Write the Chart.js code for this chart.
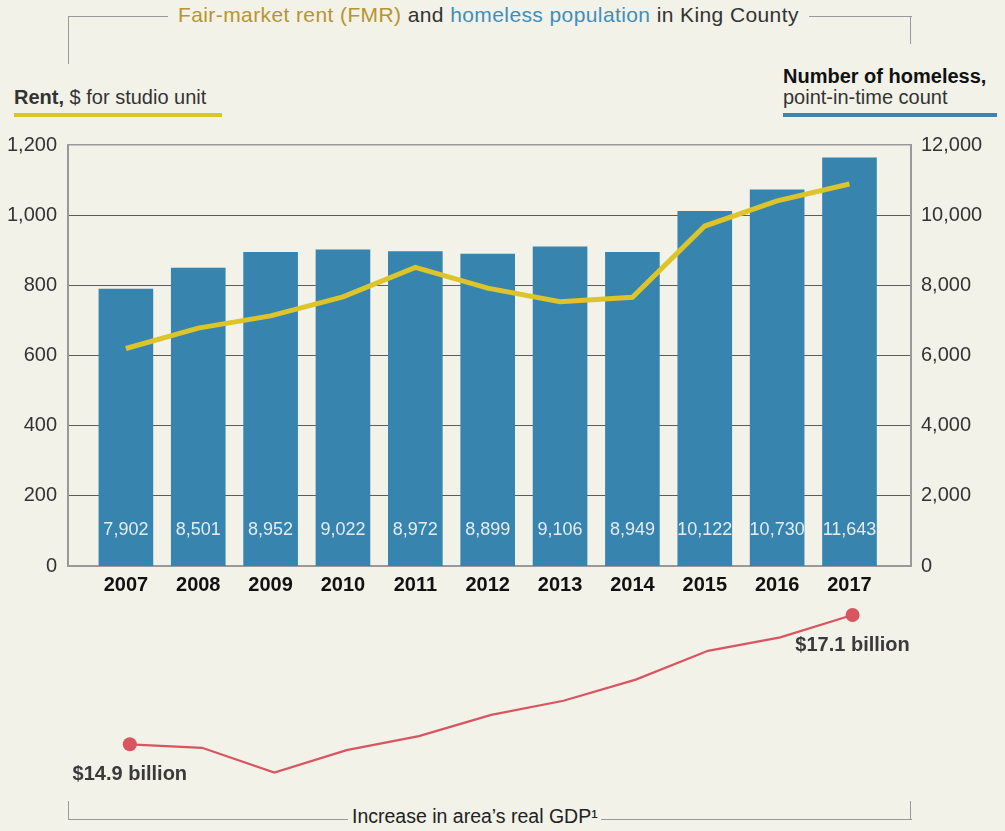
<!DOCTYPE html>
<html>
<head>
<meta charset="utf-8">
<script src="https://cdn.jsdelivr.net/npm/chart.js@4"></script>
<style>
  body { margin: 0; background: #f2f2e9; font-family: 'Liberation Sans', Arial, sans-serif; }
  #wrap { position: relative; width: 1005px; height: 831px; overflow: hidden; }
  .txt { position: absolute; font-size: 20px; line-height: 20px; color: #333; white-space: nowrap; }
  .ln { position: absolute; background: #9a9a9a; }
  .bar { position: absolute; height: 4px; }
  canvas { position: absolute; left: 0; }
</style>
</head>
<body>
<div id="wrap">
  <!-- top bracket -->
  <div class="ln" style="left:68px;top:16px;width:100px;height:1.3px"></div>
  <div class="ln" style="left:68px;top:16px;width:1.3px;height:48px"></div>
  <div class="ln" style="left:809px;top:16px;width:103px;height:1.3px"></div>
  <div class="ln" style="left:910px;top:16px;width:1.3px;height:28px"></div>
  <div class="txt" style="left:178px;top:4px;font-size:21px;line-height:21px;letter-spacing:0.4px">
    <span style="color:#b8952f">Fair-market rent (FMR)</span> and <span style="color:#3d8fbd">homeless population</span> in King County
  </div>

  <!-- axis titles -->
  <div class="txt" style="left:14px;top:87px"><b>Rent,</b> $ for studio unit</div>
  <div class="bar" style="left:14px;top:113px;width:208px;background:#dcc52c"></div>
  <div class="txt" style="left:783px;top:66px;color:#111"><b>Number of homeless,</b></div>
  <div class="txt" style="left:783px;top:87px">point-in-time count</div>
  <div class="bar" style="left:783px;top:113px;width:214px;background:#3a85b2"></div>

  <canvas id="main" width="1005" height="600" style="top:0"></canvas>
  <canvas id="gdp" width="1005" height="200" style="top:600px"></canvas>

  <!-- bottom bracket -->
  <div class="ln" style="left:68px;top:801px;width:1.3px;height:19px"></div>
  <div class="ln" style="left:68px;top:819px;width:280px;height:1.3px"></div>
  <div class="ln" style="left:601px;top:819px;width:311px;height:1.3px"></div>
  <div class="ln" style="left:910px;top:801px;width:1.3px;height:19px"></div>
  <div class="txt" style="left:352px;top:806px;font-size:19.5px;line-height:20px;color:#222">Increase in area’s real GDP¹</div>
</div>

<script>
const years = [2007, 2008, 2009, 2010, 2011, 2012, 2013, 2014, 2015, 2016, 2017];
const homeless = [7902, 8501, 8952, 9022, 8972, 8899, 9106, 8949, 10122, 10730, 11643];
const rent = [620, 678, 713, 767, 851, 792, 753, 766, 969, 1041, 1089];
const gdp = [14.9, 14.84, 14.42, 14.8, 15.04, 15.4, 15.64, 16.0, 16.49, 16.72, 17.1];
const rentTicks = [0, 200, 400, 600, 800, 1000, 1200];
const countTicks = [0, 2000, 4000, 6000, 8000, 10000, 12000];

const FONT = "'Liberation Sans', Arial, sans-serif";
Chart.defaults.font.family = FONT;
Chart.defaults.font.size = 20;
Chart.defaults.color = '#333';

const xr = { min: 2006.2, max: 2017.85 };
const pts = (ys) => years.map((y, i) => ({ x: y, y: ys[i] }));

// homeless counts written inside the foot of each bar
const barLabels = {
  id: 'barLabels',
  afterDatasetsDraw(chart) {
    const meta = chart.getDatasetMeta(1);
    const ctx = chart.ctx;
    ctx.save();
    ctx.font = '18px ' + FONT;
    ctx.fillStyle = '#e3ecf2';
    ctx.textAlign = 'center';
    ctx.textBaseline = 'middle';
    meta.data.forEach((bar, i) => {
      ctx.fillText(homeless[i].toLocaleString('en-US'), bar.x, bar.base - 36);
    });
    ctx.restore();
  }
};

new Chart(document.getElementById('main'), {
  data: {
    datasets: [
      {
        type: 'line',
        data: pts(rent),
        yAxisID: 'y',
        borderColor: '#ddc428',
        borderWidth: 5,
        pointRadius: 0,
        tension: 0,
        order: 0
      },
      {
        type: 'bar',
        data: pts(homeless),
        yAxisID: 'y1',
        backgroundColor: '#3784af',
        categoryPercentage: 1,
        barPercentage: 0.755,
        order: 1
      }
    ]
  },
  options: {
    responsive: false,
    animation: false,
    locale: 'en-US',
    layout: { autoPadding: false, padding: { top: 145, left: 0, right: 0, bottom: 0 } },
    plugins: { legend: { display: false }, tooltip: { enabled: false } },
    scales: {
      x: {
        type: 'linear',
        offset: false,
        min: xr.min,
        max: xr.max,
        afterBuildTicks: (s) => { s.ticks = years.map(v => ({ value: v })); },
        afterFit: (s) => { s.height = 34; },
        grid: { display: false, drawTicks: false },
        border: { display: true, color: '#999', width: 2 },
        ticks: {
          padding: 7,
          color: '#111',
          font: { size: 20, weight: 'bold' },
          callback: (v) => String(v)
        }
      },
      y: {
        position: 'left',
        min: 0,
        max: 1200,
        afterBuildTicks: (s) => { s.ticks = rentTicks.map(v => ({ value: v })); },
        afterFit: (s) => { s.width = 68; },
        grid: {
          drawTicks: false,
          lineWidth: (c) => (c.tick && (c.tick.value === 1200 || c.tick.value === 0)) ? 1.5 : 1,
          color: (c) => (c.tick && (c.tick.value === 1200 || c.tick.value === 0)) ? '#999' : '#5c5c5c'
        },
        border: { display: true, color: '#999', width: 2 },
        ticks: { padding: 11, color: '#333' }
      },
      y1: {
        position: 'right',
        min: 0,
        max: 12000,
        afterBuildTicks: (s) => { s.ticks = countTicks.map(v => ({ value: v })); },
        afterFit: (s) => { s.width = 94; },
        grid: { display: false, drawTicks: false },
        border: { display: true, color: '#999', width: 2 },
        ticks: { padding: 10, color: '#333' }
      }
    }
  },
  plugins: [barLabels]
});

// start and end values of the GDP line
const gdpLabels = {
  id: 'gdpLabels',
  afterDatasetsDraw(chart) {
    const meta = chart.getDatasetMeta(0);
    const ctx = chart.ctx;
    const last = gdp.length - 1;
    ctx.save();
    ctx.font = 'bold 20px ' + FONT;
    ctx.fillStyle = '#3a3a3a';
    ctx.textAlign = 'center';
    ctx.textBaseline = 'middle';
    [0, last].forEach(i => {
      const p = meta.data[i];
      ctx.fillText('$' + gdp[i].toFixed(1) + ' billion', p.x, p.y + 30);
    });
    ctx.restore();
  }
};

new Chart(document.getElementById('gdp'), {
  type: 'line',
  data: {
    datasets: [{
      data: pts(gdp),
      borderColor: '#d9555f',
      borderWidth: 2.2,
      tension: 0,
      clip: false,
      pointRadius: (c) => (c.dataIndex === 0 || c.dataIndex === gdp.length - 1) ? 7 : 0,
      pointBackgroundColor: '#d9555f',
      pointBorderWidth: 0
    }]
  },
  options: {
    responsive: false,
    animation: false,
    layout: { autoPadding: false, padding: { top: 0, left: 72, right: 91, bottom: 0 } },
    plugins: { legend: { display: false }, tooltip: { enabled: false } },
    scales: {
      x: { type: 'linear', min: xr.min, max: xr.max, display: false },
      y: { min: 13.952, max: 17.355, display: false }
    }
  },
  plugins: [gdpLabels]
});
</script>
</body>
</html>
